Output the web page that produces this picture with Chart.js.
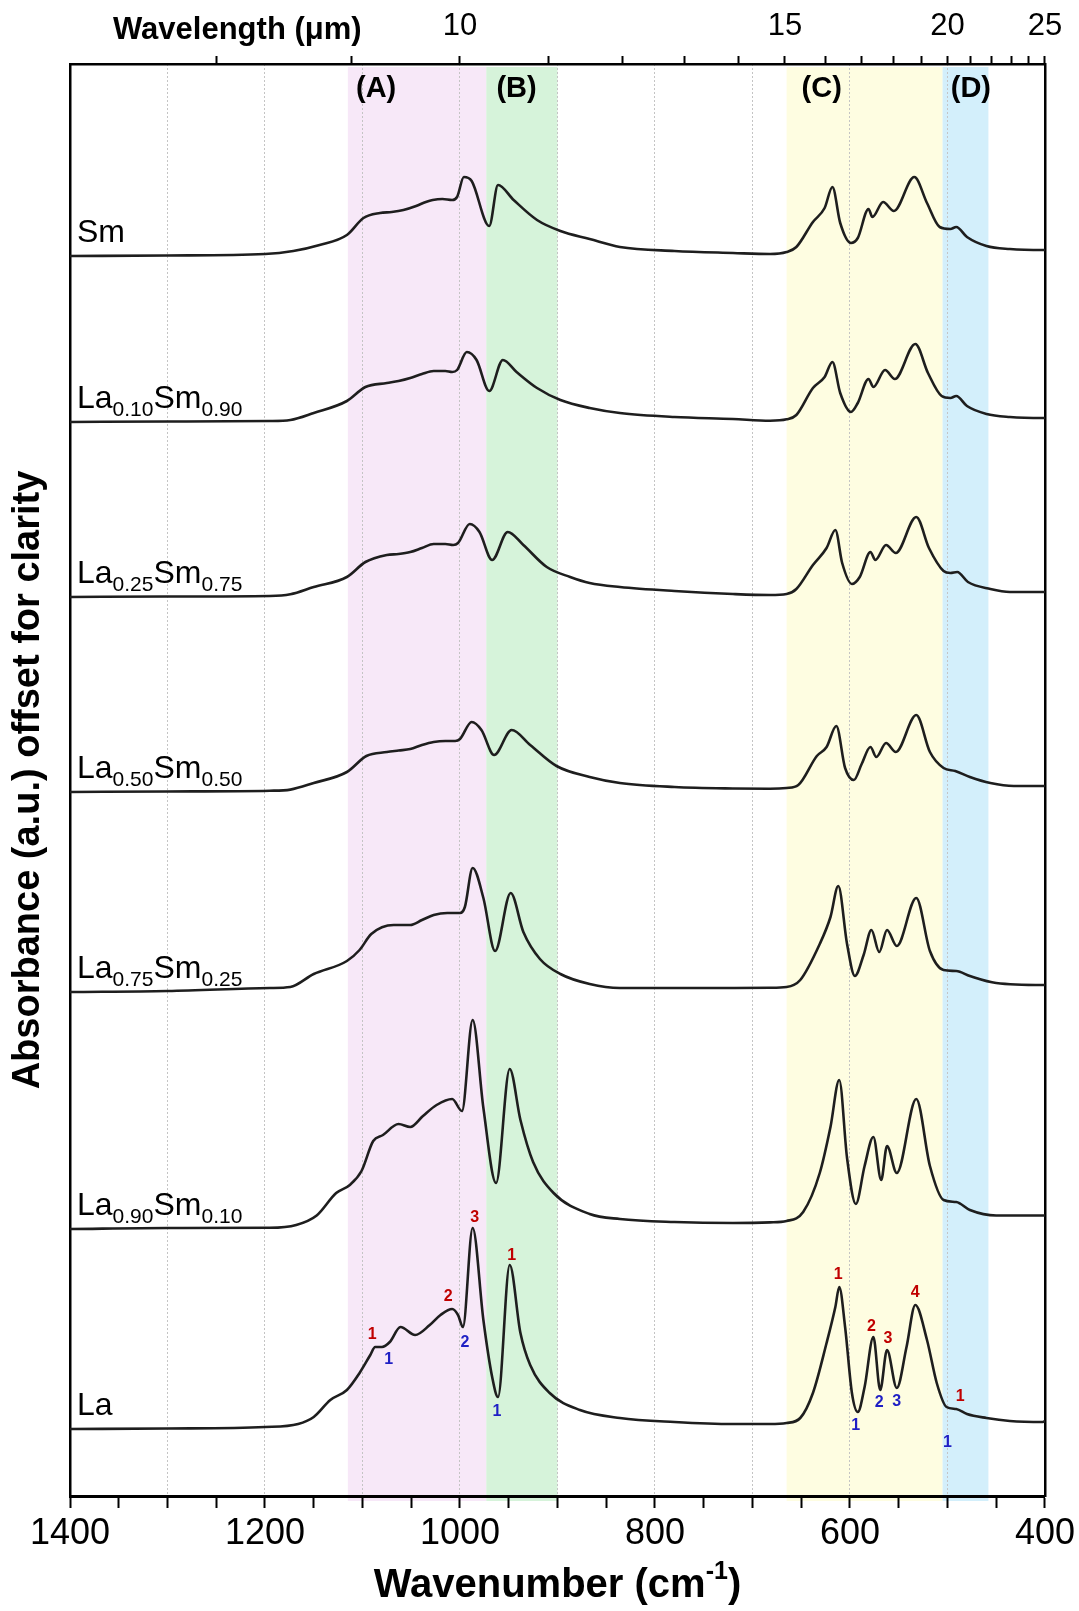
<!DOCTYPE html>
<html>
<head>
<meta charset="utf-8">
<script src="https://cdn.jsdelivr.net/npm/chart.js@4.4.1/dist/chart.umd.min.js"></script>
<style>
  html, body { margin: 0; padding: 0; background: #fff; }
  #wrap { width: 1079px; height: 1611px; }
</style>
</head>
<body>
<div id="wrap"><canvas id="ftirChart" width="1079" height="1611"></canvas></div>
<script>
// FTIR spectra, [wavenumber (cm-1), absorbance above own baseline (a.u.)]
const spectrumSm = [[1400,0],[1300,0.005],[1200,0.02],[1171,0.05],[1144,0.11],[1116,0.21],[1099,0.38],[1082,0.43],[1070,0.44],[1058,0.46],[1045,0.50],[1035,0.54],[1028,0.56],[1018,0.57],[1008,0.56],[1003,0.59],[996,0.79],[988,0.75],[970,0.30],[961,0.71],[945,0.56],[921,0.36],[897,0.25],[867,0.17],[836,0.09],[780,0.05],[720,0.03],[682,0.02],[665,0.04],[655,0.09],[638,0.34],[626,0.48],[618,0.69],[610,0.33],[599,0.13],[592,0.18],[581,0.47],[577,0.39],[566,0.54],[555,0.45],[534,0.79],[521,0.53],[508,0.29],[497,0.27],[491,0.29],[480,0.19],[460,0.10],[436,0.07],[402,0.06],[400,0.06]];
const spectrumLa10 = [[1400,0],[1300,0.005],[1195,0.01],[1174,0.02],[1150,0.09],[1116,0.21],[1097,0.35],[1075,0.39],[1063,0.41],[1051,0.44],[1039,0.48],[1027,0.51],[1015,0.51],[1008,0.50],[1003,0.52],[993,0.70],[983,0.62],[970,0.31],[956,0.62],[942,0.50],[921,0.34],[897,0.22],[867,0.14],[836,0.09],[780,0.05],[720,0.03],[682,0.013],[665,0.027],[655,0.07],[638,0.34],[626,0.45],[618,0.60],[610,0.29],[599,0.10],[592,0.19],[581,0.43],[576,0.35],[564,0.52],[554,0.43],[533,0.78],[520,0.49],[506,0.26],[497,0.24],[491,0.26],[480,0.16],[460,0.08],[436,0.05],[402,0.04],[400,0.04]];
const spectrumLa25 = [[1400,0],[1300,0.005],[1195,0.01],[1174,0.027],[1150,0.10],[1116,0.20],[1097,0.35],[1075,0.42],[1063,0.43],[1051,0.45],[1039,0.49],[1027,0.53],[1015,0.53],[1007,0.52],[1002,0.54],[990,0.73],[980,0.65],[967,0.37],[951,0.65],[935,0.52],[911,0.30],[887,0.20],[867,0.14],[836,0.10],[780,0.06],[720,0.03],[682,0.02],[665,0.03],[655,0.08],[638,0.32],[624,0.49],[615,0.67],[608,0.34],[598,0.13],[590,0.20],[579,0.45],[574,0.37],[563,0.52],[553,0.44],[532,0.80],[519,0.49],[504,0.26],[497,0.24],[490,0.25],[479,0.15],[456,0.08],[436,0.05],[402,0.05],[400,0.05]];
const spectrumLa50 = [[1400,0],[1300,0.005],[1195,0.013],[1174,0.024],[1150,0.09],[1116,0.20],[1096,0.36],[1075,0.40],[1063,0.415],[1051,0.43],[1039,0.47],[1027,0.50],[1015,0.51],[1005,0.51],[1000,0.53],[988,0.70],[978,0.62],[965,0.37],[947,0.62],[928,0.47],[901,0.26],[867,0.15],[836,0.09],[780,0.05],[720,0.035],[682,0.032],[665,0.04],[653,0.07],[634,0.36],[624,0.45],[614,0.66],[605,0.24],[596,0.12],[588,0.28],[579,0.45],[573,0.35],[563,0.49],[553,0.40],[532,0.77],[518,0.40],[504,0.24],[492,0.21],[477,0.15],[456,0.09],[432,0.06],[402,0.06],[400,0.06]];
const spectrumLa75 = [[1400,0],[1300,0.01],[1195,0.04],[1174,0.05],[1150,0.18],[1116,0.31],[1103,0.42],[1091,0.58],[1068,0.67],[1060,0.67],[1051,0.67],[1039,0.72],[1027,0.77],[1013,0.79],[1000,0.79],[995,0.85],[987,1.24],[976,0.94],[964,0.41],[948,0.99],[935,0.60],[918,0.33],[897,0.18],[867,0.08],[836,0.04],[780,0.04],[720,0.04],[682,0.042],[665,0.05],[651,0.12],[631,0.48],[620,0.75],[612,1.06],[603,0.48],[595,0.16],[586,0.37],[578,0.62],[570,0.40],[562,0.62],[552,0.46],[532,0.94],[518,0.41],[504,0.22],[491,0.21],[477,0.16],[450,0.09],[402,0.07],[400,0.07]];
const spectrumLa90 = [[1400,0],[1300,0.01],[1195,0.012],[1168,0.04],[1147,0.135],[1127,0.36],[1113,0.44],[1101,0.58],[1089,0.88],[1079,0.94],[1063,1.05],[1051,1.02],[1038,1.13],[1024,1.24],[1008,1.30],[998,1.18],[987,2.09],[976,1.21],[963,0.46],[949,1.60],[938,1.09],[925,0.67],[904,0.36],[867,0.15],[836,0.10],[780,0.07],[720,0.06],[682,0.066],[665,0.08],[648,0.17],[631,0.56],[620,1.02],[611,1.49],[603,0.71],[594,0.25],[585,0.63],[576,0.92],[568,0.49],[562,0.83],[552,0.56],[532,1.30],[518,0.63],[504,0.29],[491,0.27],[477,0.19],[450,0.135],[402,0.135],[400,0.135]];
const spectrumLa = [[1400,0],[1300,0.005],[1200,0.02],[1166,0.05],[1150,0.12],[1133,0.29],[1116,0.39],[1103,0.56],[1092,0.74],[1087,0.82],[1080,0.82],[1072,0.87],[1061,1.02],[1046,0.94],[1031,1.04],[1020,1.14],[1008,1.20],[1002,1.14],[997,1.02],[987,2.01],[976,1.09],[967,0.52],[961,0.32],[949,1.64],[938,0.96],[928,0.64],[908,0.36],[877,0.19],[836,0.11],[780,0.07],[720,0.05],[682,0.05],[665,0.06],[651,0.11],[638,0.36],[624,0.86],[615,1.22],[611,1.42],[605,1.02],[598,0.36],[592,0.17],[585,0.42],[576,0.92],[569,0.39],[562,0.79],[552,0.41],[542,0.82],[533,1.24],[521,0.89],[511,0.46],[501,0.22],[491,0.20],[480,0.15],[460,0.11],[436,0.08],[402,0.07],[400,0.08]];

const spectra = [spectrumSm, spectrumLa10, spectrumLa25, spectrumLa50, spectrumLa75, spectrumLa90, spectrumLa];
// vertical offsets for clarity
const offsets = [12.40, 10.74, 8.99, 7.04, 5.04, 2.67, 0.67];
// sample names as [element, subscript] pieces
const sampleNames = [
  [['Sm', '']],
  [['La', '0.10'], ['Sm', '0.90']],
  [['La', '0.25'], ['Sm', '0.75']],
  [['La', '0.50'], ['Sm', '0.50']],
  [['La', '0.75'], ['Sm', '0.25']],
  [['La', '0.90'], ['Sm', '0.10']],
  [['La', '']]
];

// spectral regions
const bandNames = ['(A)', '(B)', '(C)', '(D)'];
const bandFrom = [1115, 973, 665, 505];
const bandTo = [973, 900, 505, 458];
const bandLabelAt = [1086, 942, 629, 476];
const bandColors = ['#f7e8f8', '#d6f3da', '#fefde1', '#d3effb'];

// peak / dip numbering on the La trace: [wavenumber, level above La baseline, text]
const peakMarks = [[1090,0.94,'1'],[1012,1.32,'2'],[985,2.11,'3'],[947,1.73,'1'],[612,1.54,'1'],[578,1.02,'2'],[561,0.90,'3'],[533,1.36,'4'],[487,0.32,'1']];
const dipMarks = [[1073,0.69,'1'],[995,0.86,'2'],[962,0.17,'1'],[594,0.03,'1'],[570,0.26,'2'],[552,0.27,'3'],[500,-0.14,'1']];

// top axis in wavelength (um)
const wavelengthTicks = [8, 9, 10, 11, 12, 13, 14, 15, 16, 17, 18, 19, 20, 21, 22, 23, 24, 25];
const wavelengthLabels = [10, 15, 20, 25];

const NARROW = "'Liberation Sans Narrow', 'Arial Narrow', 'Liberation Sans', Arial, sans-serif";
const SANS = "'Liberation Sans', Arial, sans-serif";

const bandsPlugin = {
  id: 'bands',
  beforeDraw(chart) {
    const { ctx, chartArea, scales } = chart;
    ctx.save();
    bandFrom.forEach((from, i) => {
      const x1 = scales.x.getPixelForValue(from);
      const x2 = scales.x.getPixelForValue(bandTo[i]);
      ctx.fillStyle = bandColors[i];
      ctx.fillRect(x1, chartArea.top + 3, x2 - x1, chartArea.bottom - chartArea.top + 2);
    });
    ctx.restore();
  }
};

const textPlugin = {
  id: 'texts',
  afterDraw(chart) {
    const { ctx, chartArea, scales } = chart;
    const x = scales.x, y = scales.y;
    ctx.save();
    ctx.fillStyle = '#000';

    // region letters
    ctx.font = 'bold 29px ' + SANS;
    ctx.textAlign = 'center';
    ctx.textBaseline = 'middle';
    bandNames.forEach((t, i) => ctx.fillText(t, x.getPixelForValue(bandLabelAt[i]), 89));

    // sample names with subscripts
    ctx.textAlign = 'left';
    ctx.textBaseline = 'alphabetic';
    sampleNames.forEach((parts, i) => {
      let px = 77;
      const py = y.getPixelForValue(offsets[i]) - 14;
      parts.forEach(([main, sub]) => {
        ctx.font = '32px ' + SANS;
        ctx.fillText(main, px, py);
        px += ctx.measureText(main).width;
        if (sub) {
          ctx.font = '21px ' + SANS;
          ctx.fillText(sub, px, py + 8);
          px += ctx.measureText(sub).width;
        }
      });
    });

    // numbering of peaks and dips
    ctx.font = 'bold 16px ' + SANS;
    ctx.textAlign = 'center';
    ctx.textBaseline = 'middle';
    const laBase = offsets[offsets.length - 1];
    ctx.fillStyle = '#c00000';
    peakMarks.forEach(([w, v, t]) => ctx.fillText(t, x.getPixelForValue(w), y.getPixelForValue(v + laBase)));
    ctx.fillStyle = '#1f1fc4';
    dipMarks.forEach(([w, v, t]) => ctx.fillText(t, x.getPixelForValue(w), y.getPixelForValue(v + laBase)));

    // top axis name
    ctx.fillStyle = '#000';
    ctx.textAlign = 'left';
    ctx.font = 'bold 31px ' + SANS;
    ctx.fillText('Wavelength (\u03bcm)', 113, 30);

    // bottom axis name with superscript
    const cx = (chartArea.left + chartArea.right) / 2;
    const by = 1597;
    ctx.textBaseline = 'alphabetic';
    ctx.font = 'bold 40px ' + NARROW;
    const a = 'Wavenumber (cm', c = ')';
    const wa = ctx.measureText(a).width, wc = ctx.measureText(c).width;
    ctx.font = 'bold 25px ' + NARROW;
    const wb = ctx.measureText('-1').width;
    const sx = cx - (wa + wb + wc) / 2;
    ctx.font = 'bold 40px ' + NARROW;
    ctx.fillText(a, sx, by);
    ctx.font = 'bold 25px ' + NARROW;
    ctx.fillText('-1', sx + wa, by - 18);
    ctx.font = 'bold 40px ' + NARROW;
    ctx.fillText(c, sx + wa + wb, by);
    ctx.restore();
  }
};

const datasets = spectra.map((s, i) => ({
  data: s.map(([w, a]) => ({ x: w, y: a + offsets[i] })),
  borderColor: '#1e1e1e',
  borderWidth: 2.6,
  pointRadius: 0,
  fill: false,
  cubicInterpolationMode: 'monotone'
}));

new Chart(document.getElementById('ftirChart'), {
  type: 'line',
  data: { datasets },
  plugins: [bandsPlugin, textPlugin],
  options: {
    responsive: false,
    devicePixelRatio: 1,
    animation: false,
    layout: { padding: 0 },
    plugins: { legend: { display: false }, tooltip: { enabled: false } },
    scales: {
      x: {
        type: 'linear',
        position: 'bottom',
        reverse: true,
        min: 400,
        max: 1400,
        afterFit: s => { s.height = 115; },
        ticks: {
          stepSize: 50,
          autoSkip: false,
          maxRotation: 0,
          padding: 4,
          color: '#000',
          font: { family: NARROW, size: 36 },
          callback: v => (v % 200 === 0 ? String(v) : '')
        },
        grid: {
          color: c => (c.tick && c.tick.value % 100 === 0 && c.tick.value > 400 && c.tick.value < 1400) ? '#c4c4c4' : 'rgba(0,0,0,0)',
          lineWidth: 1,
          tickColor: '#000',
          tickWidth: 2,
          tickLength: 12
        },
        border: { display: true, color: '#000', width: 3, dash: [2, 2] }
      },
      x2: {
        type: 'linear',
        position: 'top',
        reverse: true,
        min: 400,
        max: 1400,
        afterFit: s => { s.height = 64; },
        afterBuildTicks: s => { s.ticks = wavelengthTicks.map(l => ({ value: 10000 / l })); },
        ticks: {
          autoSkip: false,
          maxRotation: 0,
          padding: 11,
          color: '#000',
          font: { family: NARROW, size: 31 },
          callback: v => {
            const l = Math.round(10000 / v);
            return wavelengthLabels.includes(l) ? String(l) : '';
          }
        },
        grid: { drawOnChartArea: false, tickColor: '#000', tickWidth: 2, tickLength: 8 },
        border: { display: true, color: '#000', width: 2.5 }
      },
      y: {
        type: 'linear',
        position: 'left',
        min: 0,
        max: 14.32,
        afterFit: s => { s.width = 70; },
        ticks: { display: false },
        grid: { display: false },
        border: { display: true, color: '#000', width: 2.5 },
        title: {
          display: true,
          text: 'Absorbance (a.u.) offset for clarity',
          color: '#000',
          font: { family: SANS, size: 38, weight: 'bold' },
          padding: { top: 6, bottom: 0 }
        }
      },
      y2: {
        type: 'linear',
        position: 'right',
        min: 0,
        max: 14.32,
        afterFit: s => { s.width = 34; },
        ticks: { display: false },
        grid: { display: false },
        border: { display: true, color: '#000', width: 2.5 }
      }
    }
  }
});
</script>
</body>
</html>
